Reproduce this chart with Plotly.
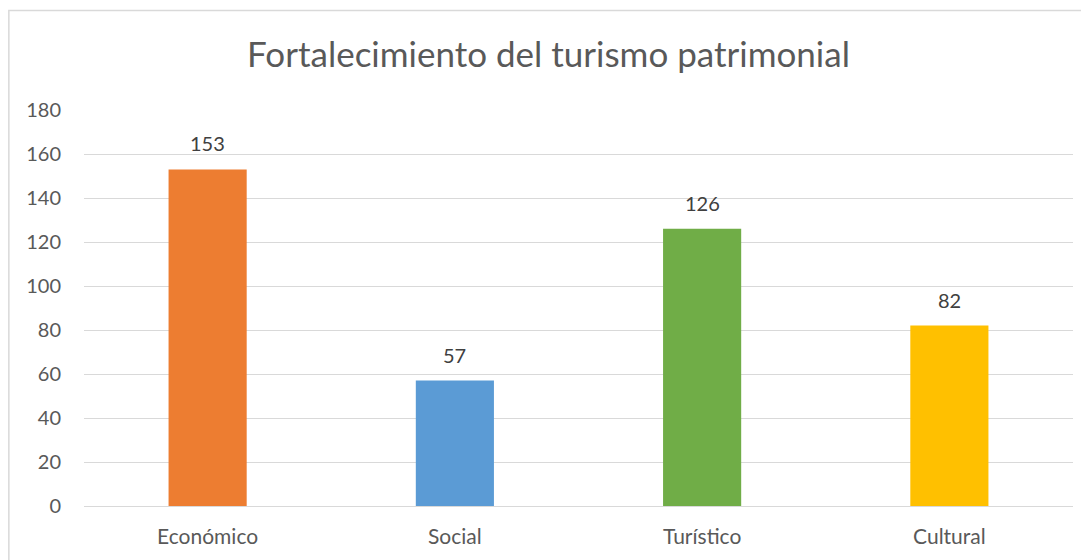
import plotly.graph_objects as go

# data
categorias = ["Económico", "Social", "Turístico", "Cultural"]
valores = [153, 57, 126, 82]
colores = ["#ED7D31", "#5B9BD5", "#70AD47", "#FFC000"]
ticks_y = [0, 20, 40, 60, 80, 100, 120, 140, 160, 180]

font_fam = "Lato, Open Sans, sans-serif"

fig = go.Figure()
fig.add_trace(
    go.Bar(
        x=categorias,
        y=valores,
        marker=dict(color=colores, line=dict(width=0)),
        hoverinfo="x+y",
    )
)

# value labels above the bars
for cat, val in zip(categorias, valores):
    fig.add_annotation(
        x=cat, y=val,
        text=str(val),
        showarrow=False,
        yanchor="bottom",
        yshift=12,
        font=dict(size=20, color="#404040", family=font_fam),
    )

# outer chart border (partly outside the picture, like the original)
fig.add_shape(
    type="rect",
    xref="paper", yref="paper",
    x0=-0.0760, y0=-0.3, x1=1.2, y1=1.2513,
    line=dict(color="#D9D9D9", width=1.5),
    layer="below",
)

# page body has an 8px margin, so the figure is a bit smaller than the window
fig.update_layout(
    width=1081,
    height=552,
    margin=dict(l=76, r=16, t=102, b=52),
    title=dict(
        text="Fortalecimiento del turismo patrimonial",
        x=0.5, xref="container", xanchor="center",
        y=0.915, yref="container", yanchor="middle",
        font=dict(size=35, color="#595959", family=font_fam),
    ),
    bargap=0.684,
    plot_bgcolor="white",
    paper_bgcolor="white",
    showlegend=False,
    font=dict(family=font_fam, color="#595959"),
)

fig.update_xaxes(
    showgrid=False,
    showline=False,
    ticks="",
    ticklabelstandoff=16,
    tickfont=dict(size=21, color="#595959"),
)
fig.update_yaxes(
    range=[0, 180],
    tickvals=ticks_y,
    showgrid=True,
    gridcolor="#D9D9D9",
    gridwidth=1,
    zeroline=True,
    zerolinecolor="#D9D9D9",
    zerolinewidth=1,
    showline=False,
    ticks="",
    ticklabelstandoff=22,
    tickfont=dict(size=20, color="#595959"),
)

fig.write_html("out.html")
